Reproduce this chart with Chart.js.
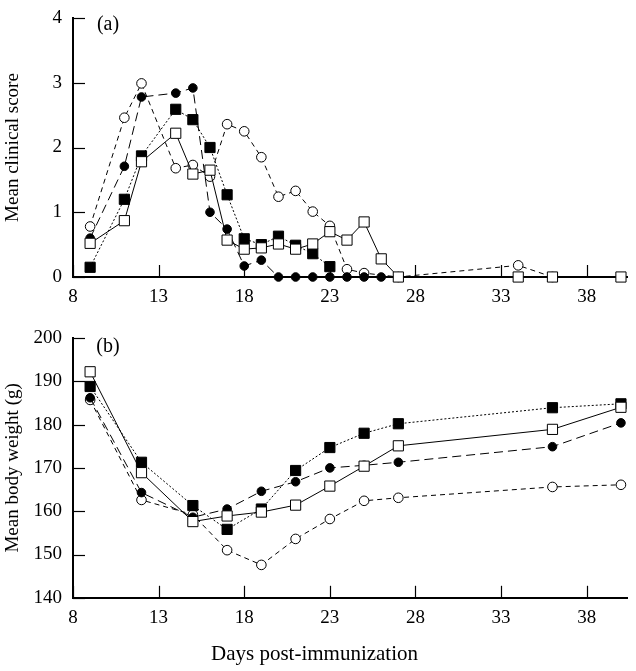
<!DOCTYPE html>
<html>
<head>
<meta charset="utf-8">
<script src="https://cdn.jsdelivr.net/npm/chart.js@4.4.1/dist/chart.umd.min.js"></script>
<style>
body { margin: 0; background: #fff; }
#wrap { position: relative; width: 636px; height: 671px; }
canvas { position: absolute; left: 0; }
#chartA { top: 0; }
#chartB { top: 320px; }
</style>
</head>
<body>
<div id="wrap">
<canvas id="chartA" width="636" height="310"></canvas>
<canvas id="chartB" width="636" height="351"></canvas>
</div>
<script>
// shared x ticks
const dayTicks = [8, 13, 18, 23, 28, 33, 38];

// (a) mean clinical score
const scoreDaysOpenSq = [9, 11, 12, 14, 15, 16, 17, 18, 19, 20, 21, 22, 23, 24, 25, 26, 27, 34, 36, 40];
const scoreOpenSq     = [0.52, 0.87, 1.78, 2.22, 1.59, 1.65, 0.57, 0.43, 0.45, 0.51, 0.43, 0.51, 0.70, 0.57, 0.85, 0.28, 0, 0, 0, 0];
const scoreDaysFilledSq = [9, 11, 12, 14, 15, 16, 17, 18, 19, 20, 21, 22, 23];
const scoreFilledSq     = [0.15, 1.20, 1.87, 2.59, 2.43, 2.00, 1.27, 0.59, 0.50, 0.63, 0.49, 0.36, 0.16];
const scoreDaysFilledCirc = [9, 11, 12, 14, 15, 16, 17, 18, 19, 20, 21, 22, 23, 24, 25, 26];
const scoreFilledCirc     = [0.60, 1.71, 2.78, 2.84, 2.92, 1.00, 0.74, 0.17, 0.26, 0, 0, 0, 0, 0, 0, 0];
const scoreDaysOpenCirc = [9, 11, 12, 14, 15, 16, 17, 18, 19, 20, 21, 22, 23, 24, 25, 27, 34, 36];
const scoreOpenCirc     = [0.78, 2.46, 2.99, 1.68, 1.73, 1.55, 2.36, 2.25, 1.85, 1.24, 1.33, 1.01, 0.79, 0.12, 0.06, 0, 0.18, 0];

// (b) mean body weight
const weightDays = [9, 12, 15, 17, 19, 21, 23, 25, 27, 36, 40];
const weightOpenSq     = [192.2, 168.9, 157.6, 158.9, 159.8, 161.4, 165.8, 170.4, 175.1, 178.9, 184.0];
const weightFilledSq   = [188.8, 171.3, 161.3, 155.8, 160.5, 169.4, 174.7, 178.0, 180.2, 183.9, 184.8];
const weightFilledCirc = [186.2, 164.3, 158.6, 160.5, 164.6, 166.8, 170.0, 170.6, 171.3, 174.9, 180.4];
const weightOpenCirc   = [185.7, 162.6, 159.2, 151.0, 147.6, 153.6, 158.2, 162.4, 163.1, 165.6, 166.1];

const serif = 'Liberation Serif';

function pts(days, vals) {
    return days.map((d, i) => ({ x: d, y: vals[i] }));
}

function series(days, vals, kind) {
    const base = {
        data: pts(days, vals),
        borderColor: '#000',
        borderWidth: 1,
        pointBorderColor: '#000',
        pointBorderWidth: 1,
        pointHoverRadius: 0,
        tension: 0,
        clip: false,
        fill: false
    };
    if (kind === 'openSq') {
        return Object.assign(base, { pointStyle: 'rect', pointRadius: 7.2, pointBackgroundColor: '#fff', borderDash: [] });
    }
    if (kind === 'filledSq') {
        return Object.assign(base, { pointStyle: 'rect', pointRadius: 7.2, pointBackgroundColor: '#000', borderDash: [2, 2] });
    }
    if (kind === 'filledCirc') {
        return Object.assign(base, { pointStyle: 'circle', pointRadius: 4.3, pointBackgroundColor: '#000', borderDash: [9, 5] });
    }
    return Object.assign(base, { pointStyle: 'circle', pointRadius: 4.8, pointBackgroundColor: '#fff', borderDash: [5, 4] });
}

const inwardTicks = {
    id: 'inwardTicks',
    beforeDatasetsDraw(chart) {
        const { ctx, chartArea, scales } = chart;
        ctx.save();
        ctx.strokeStyle = '#000';
        ctx.lineWidth = 1.2;
        scales.x.ticks.forEach(t => {
            const px = Math.round(scales.x.getPixelForValue(t.value)) + 0.5;
            ctx.beginPath();
            ctx.moveTo(px, chartArea.bottom);
            ctx.lineTo(px, chartArea.bottom - 12);
            ctx.stroke();
        });
        scales.y.ticks.forEach(t => {
            const py = Math.round(scales.y.getPixelForValue(t.value)) + 0.5;
            ctx.beginPath();
            ctx.moveTo(chartArea.left, py);
            ctx.lineTo(chartArea.left + 12, py);
            ctx.stroke();
        });
        ctx.restore();
    }
};

const panelLabel = {
    id: 'panelLabel',
    afterDraw(chart, args, opts) {
        const { ctx, chartArea } = chart;
        ctx.save();
        ctx.fillStyle = '#000';
        ctx.font = '20px ' + serif;
        ctx.textAlign = 'center';
        ctx.textBaseline = 'middle';
        ctx.fillText(opts.text, chartArea.left + 35, chartArea.top + opts.dy);
        ctx.restore();
    }
};

function makeOptions(yMin, yMax, yStep, yTitle, label, dy, xHeight, withXTitle) {
    return {
        responsive: false,
        animation: false,
        events: [],
        layout: { padding: { top: 18, right: 7, left: 0, bottom: 0 } },
        plugins: {
            legend: { display: false },
            tooltip: { enabled: false },
            title: {
                display: withXTitle,
                text: 'Days post-immunization',
                position: 'bottom',
                color: '#000',
                font: { family: serif, size: 21, weight: 'normal' },
                padding: { top: 13, bottom: 4 }
            },
            panelLabel: { text: label, dy: dy }
        },
        scales: {
            x: {
                type: 'linear',
                min: 8,
                max: 40.4,
                afterBuildTicks: axis => { axis.ticks = dayTicks.map(v => ({ value: v })); },
                afterFit: s => { s.height = xHeight; },
                grid: { display: false },
                border: { display: true, color: '#000', width: 2 },
                ticks: { color: '#000', padding: 1, maxRotation: 0, font: { family: serif, size: 19 } }
            },
            y: {
                min: yMin,
                max: yMax,
                afterFit: s => { s.width = 73; },
                grid: { display: false },
                border: { display: true, color: '#000', width: 2 },
                ticks: { stepSize: yStep, color: '#000', padding: 3, font: { family: serif, size: 19 } },
                title: { display: true, text: yTitle, color: '#000', font: { family: serif, size: 19 }, padding: { top: 2, bottom: 2 } }
            }
        }
    };
}

new Chart(document.getElementById('chartA'), {
    type: 'line',
    data: {
        datasets: [
            series(scoreDaysOpenSq, scoreOpenSq, 'openSq'),
            series(scoreDaysFilledSq, scoreFilledSq, 'filledSq'),
            series(scoreDaysFilledCirc, scoreFilledCirc, 'filledCirc'),
            series(scoreDaysOpenCirc, scoreOpenCirc, 'openCirc')
        ]
    },
    options: makeOptions(0, 4, 1, 'Mean clinical score', '(a)', 7, 33, false),
    plugins: [inwardTicks, panelLabel]
});

new Chart(document.getElementById('chartB'), {
    type: 'line',
    data: {
        datasets: [
            series(weightDays, weightOpenSq, 'openSq'),
            series(weightDays, weightFilledSq, 'filledSq'),
            series(weightDays, weightFilledCirc, 'filledCirc'),
            series(weightDays, weightOpenCirc, 'openCirc')
        ]
    },
    options: makeOptions(140, 200, 10, 'Mean body weight (g)', '(b)', 9, 31, true),
    plugins: [inwardTicks, panelLabel]
});
</script>
</body>
</html>
